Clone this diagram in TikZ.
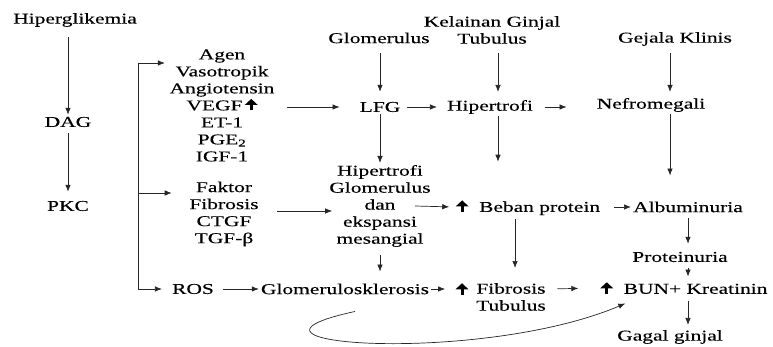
\documentclass[tikz,border=0pt]{standalone}
\usepackage{fontspec}
\setmainfont{Liberation Serif}[FakeStretch=1.43,FakeBold=0.3]
\usetikzlibrary{arrows.meta,calc}
\newcommand\upa{\tikz[baseline=0pt]{\draw[line width=3pt,-{Triangle[length=6pt,width=12.5pt]}] (0pt,0pt) -- (0pt,11.5pt);}}
\begin{document}
\begin{tikzpicture}[x=1pt,y=-1pt,
  every node/.style={font=\fontsize{15}{17}\selectfont, inner sep=2pt, align=center, text=black},
  arr/.style={draw=black!85, line width=0.7pt, -{Latex[length=7pt,width=5.5pt]}},
  ln/.style={draw=black!85, line width=0.7pt}]
\useasboundingbox (0,0) rectangle (773,347);

% nodes
\node (hip) at (75,20) {Hiperglikemia};
\node (dag) at (68,122) {DAG};
\node (pkc) at (68,206) {PKC};
\node (agen) at (222,105.5) {Agen\\Vasotropik\\Angiotensin\\VEGF\,\upa\\ET-1\\PGE\textsubscript{2}\\IGF-1};
\node (glom) at (379,38) {Glomerulus};
\node (kel) at (492,30) {Kelainan Ginjal\\Tubulus};
\node (gej) at (675,39) {Gejala Klinis};
\node (lfg) at (380,107) {LFG};
\node (hipt) at (490,107) {Hipertrofi};
\node (nef) at (651,105) {Nefromegali};
\node (hg) at (380,206) {Hipertrofi\\Glomerulus\\dan\\ekspansi\\mesangial};
\node (fak) at (224,214) {Faktor\\Fibrosis\\CTGF\\TGF-β};
\node (beban) at (528,207) {\upa\ \ Beban protein};
\node (alb) at (688,207) {Albuminuria};
\node (prot) at (680,257) {Proteinuria};
\node (ros) at (193,289) {ROS};
\node (gs) at (345,289) {Glomerulosklerosis};
\node (fibup) at (462,289) {\upa};
\node (fib) at (511,297) {Fibrosis\\Tubulus};
\node (bun) at (684,288) {\upa\ \ BUN+ Kreatinin};
\node (gg) at (670,337) {Gagal ginjal};

% left column
\draw[arr, shorten <=8pt] (dag |- hip.south) -- (dag.north);
\draw[arr, shorten <=4pt, shorten >=7pt] (dag.south) -- (pkc.north);

% bracket
\coordinate (bt) at (138,63);
\coordinate (bm) at (138,193);
\coordinate (bb) at (138,289);
\draw[ln] (bt) -- (bb);
\draw[arr, shorten >=2.5pt] (bt) -- (bt -| agen.west);
\draw[arr, shorten >=15.5pt] (bm) -- (bm -| fak.west);
\draw[arr, shorten >=8pt] (bb) -- (ros.west);

% top rows
\draw[arr, shorten <=10pt, shorten >=18pt] (agen.east |- lfg) -- (lfg.west);
\draw[arr, shorten <=8pt, shorten >=8pt] (glom.south -| lfg) -- (lfg.north);
\draw[arr, shorten <=7pt, shorten >=6pt] ([xshift=6pt]kel.south) -- ([xshift=6pt]kel.south |- hipt.north);
\draw[arr, shorten <=5pt, shorten >=4pt] ([xshift=-5pt]gej.south) -- ([xshift=-5pt]gej.south |- nef.north);
\draw[arr, shorten <=5pt, shorten >=8pt] (lfg.east) -- (hipt.west);
\draw[arr, shorten <=10pt, shorten >=28pt] (hipt.east) -- (nef.west |- hipt);
\draw[arr, shorten >=24pt] ([xshift=-5pt]gej.south |- nef.south) -- ([xshift=-5pt]gej.south |- alb.north);
\draw[arr, shorten >=35pt] ([xshift=8pt]hipt.south) -- ([xshift=8pt]hipt.south |- beban.north);
\draw[arr] (lfg.south) -- (lfg.south |- hg.north);

% middle rows
\draw[arr, shorten <=16.5pt, shorten >=-5pt] ($(fak.east |- hg.west)+(0,5)$) -- ($(hg.west)+(0,5)$);
\draw[arr, shorten >=4.5pt] ($(hg.east)+(-18,0)$) -- (beban.west);
\draw[arr, shorten <=12pt] (beban.east) -- (alb.west);
\draw[arr, shorten <=2pt, shorten >=13pt] ([xshift=-13pt]beban.south) -- ([xshift=-13pt]beban.south |- fib.north);
\draw[arr, shorten <=6pt, shorten >=10pt] (hg.south) -- (hg.south |- gs.north);
\draw[arr, shorten <=4pt, shorten >=6pt] (alb.south) -- (alb.south |- prot.north);

% bottom rows
\draw[arr, shorten <=7pt] (ros.east) -- (gs.west);
\draw[arr, shorten >=8.5pt] (gs.east) -- (fibup.west);
\draw[arr, shorten <=9.5pt, shorten >=20pt] (fib.east |- fibup) -- (bun.west);
\draw[arr, shorten <=4pt, shorten >=2pt] (alb.south |- prot.south) -- (alb.south |- bun.north);
\draw[arr, shorten <=4pt, shorten >=3pt] (alb.south |- bun.south) -- (alb.south |- gg.north);
\draw[arr] ($(gs.south)+(10,15)$) .. controls (200,345) and (480,365) .. ($(bun.south west)+(27,6)$);
\end{tikzpicture}
\end{document}
